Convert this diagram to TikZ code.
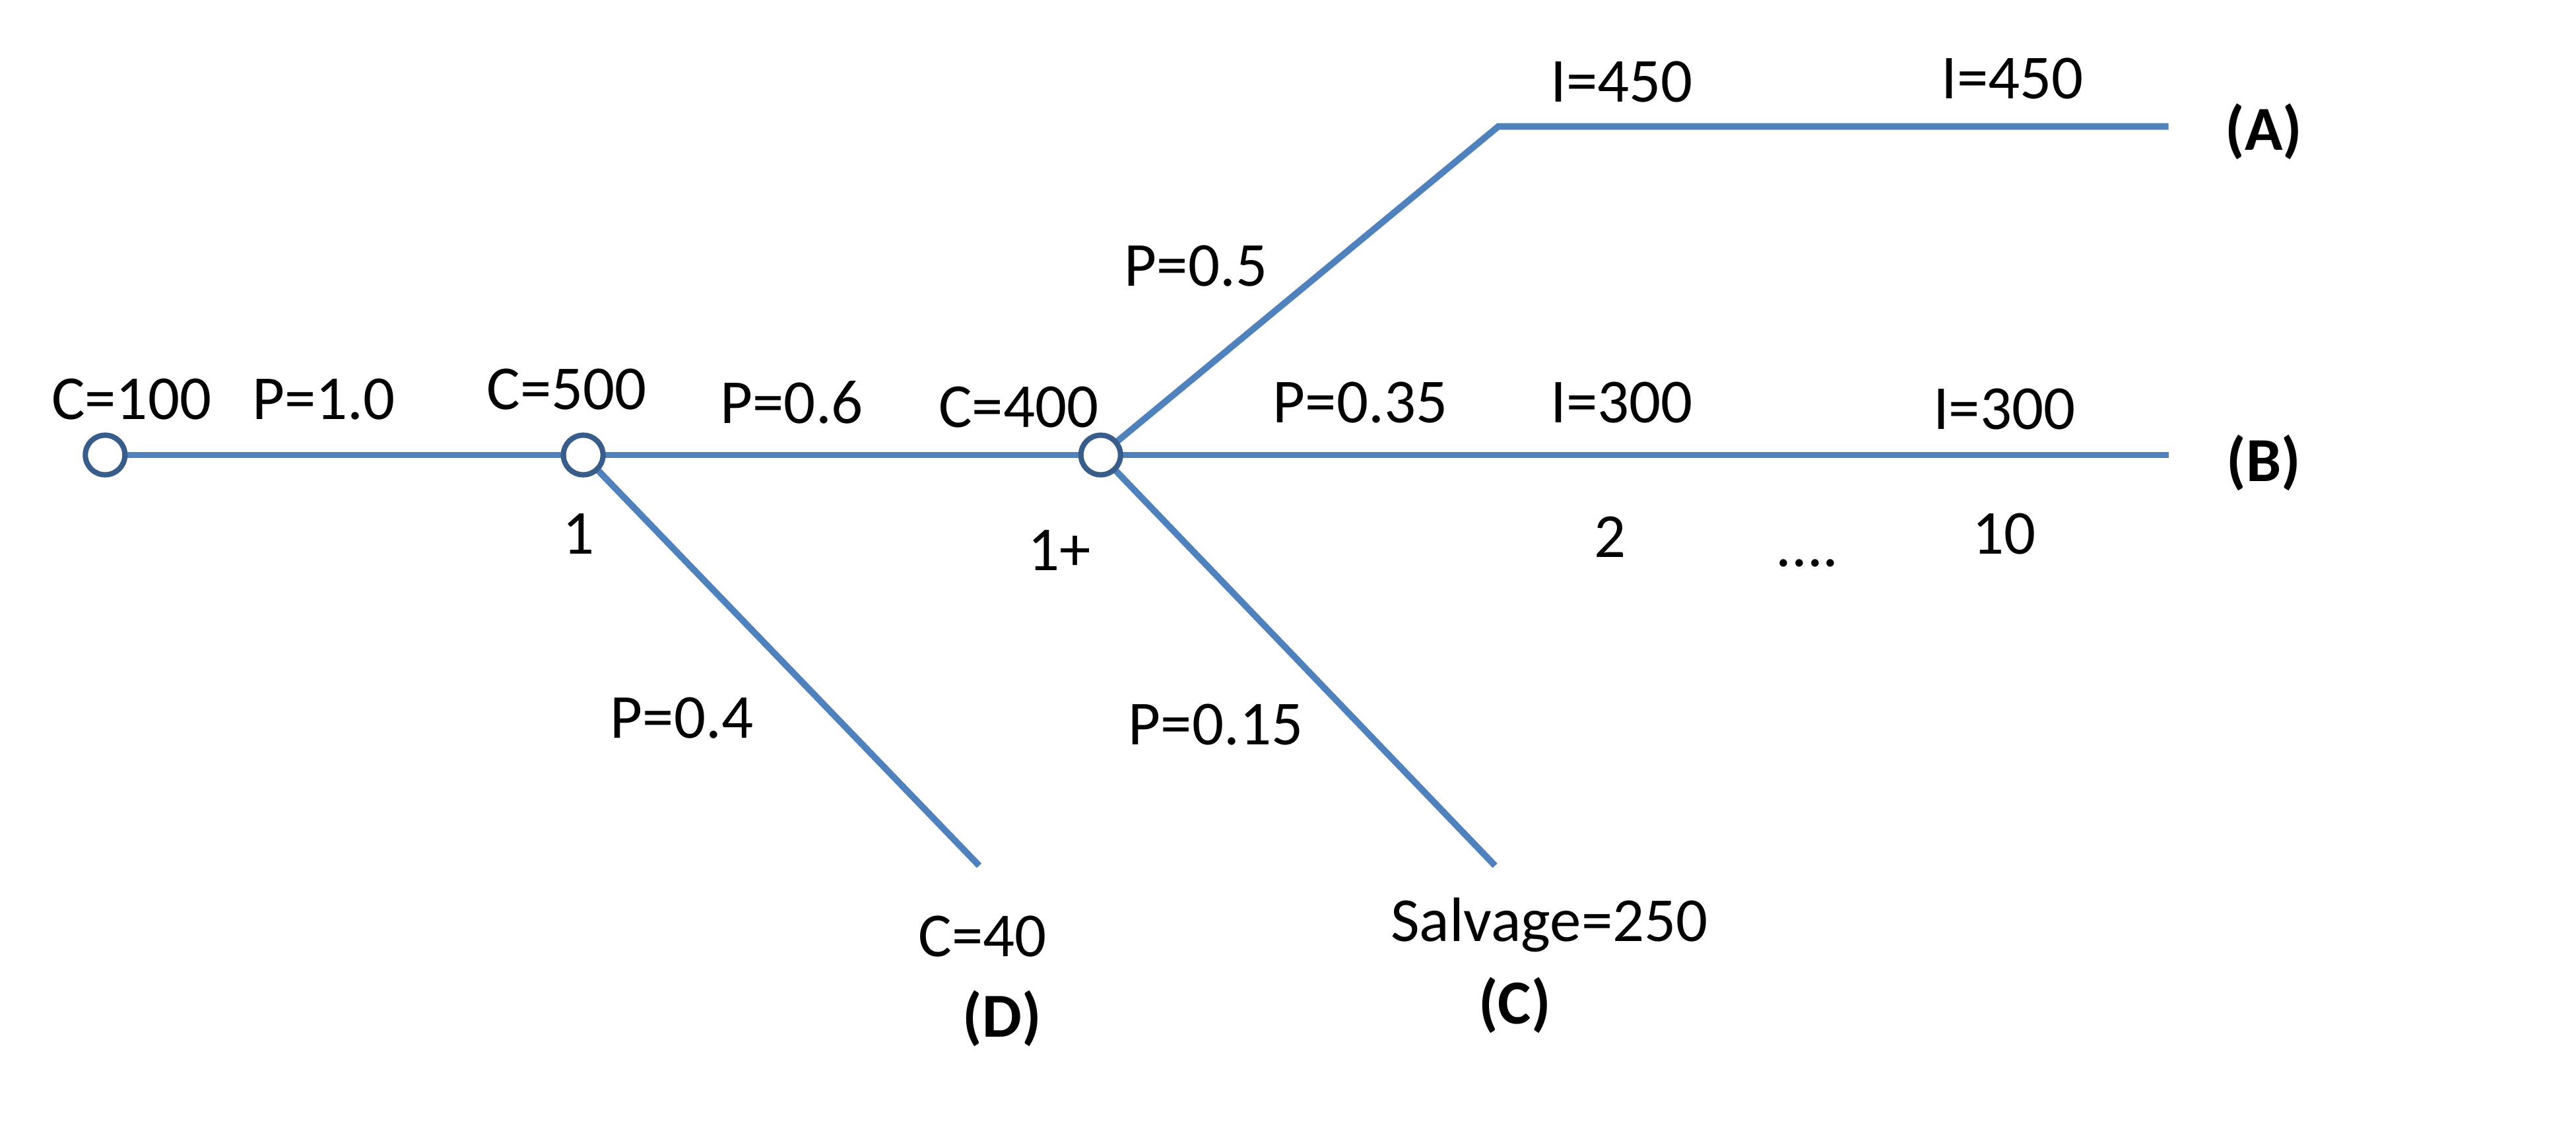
\documentclass[tikz,border=0pt]{standalone}
\usepackage{fontspec}
\setmainfont{Carlito}
\usetikzlibrary{positioning}
\definecolor{branch}{RGB}{79,129,189}
\definecolor{rim}{RGB}{56,93,138}
\tikzset{
  branch/.style={draw=branch,line width=2.8pt},
  event/.style={circle,draw=rim,fill=white,line width=2.3pt,minimum size=6mm,inner sep=0pt},
  lbl/.style={font=\fontsize{27}{32}\selectfont,inner sep=0pt},
  outcome/.style={font=\fontsize{27}{32}\selectfont\bfseries,inner sep=0pt},
}
\begin{document}
\begin{tikzpicture}[x=0.02489cm,y=-0.02489cm]
    \useasboundingbox (0,0) rectangle (1568,692);
    % event nodes and branch ends
    \coordinate (aknee) at (912,77);
    \coordinate (aend) at (1320,77);
    \coordinate (bend) at (1320,277);
    \coordinate (cend) at (910,527);
    \coordinate (dend) at (596,527);
    \draw[branch] (64,277) coordinate (p0) -- (355,277) coordinate (p1);
    \draw[branch] (p1) -- (670,277) coordinate (p2);
    \draw[branch] (p1) -- (dend);
    \draw[branch] (p2) -- (aknee) -- (aend);
    \draw[branch] (p2) -- (bend);
    \draw[branch] (p2) -- (cend);
    \node[event] (start) at (p0) {};
    \node[event] (dec1) at (p1) {};
    \node[event] (dec2) at (p2) {};
    % labels
    \foreach \x/\y/\t [count=\i] in {80/243/C=100,197/243/P=1.0,345/237/C=500,482/245/P=0.6,
      620/248/C=400,828/245/P=0.35,987/245/I=300,1220/249/I=300,987/50/I=450,1225/48/I=450,
      728/162/P=0.5,352/325/1,645/335/1+,980/327/2,1220/325/10,415/437/P=0.4,740/441/P=0.15,
      598/570/C=40,943/563/Salvage=250}{
      \node[lbl] (l\i) at (\x,\y) {\t};
    }
    \node[lbl,anchor=base] (dots) at (1100,345) {....};
    \foreach \x/\y/\t in {1378/80/A,1378/282/B,922/612/C,610/620/D}{
      \node[outcome] (o\t) at (\x,\y) {(\t)};
    }
\end{tikzpicture}
\end{document}
